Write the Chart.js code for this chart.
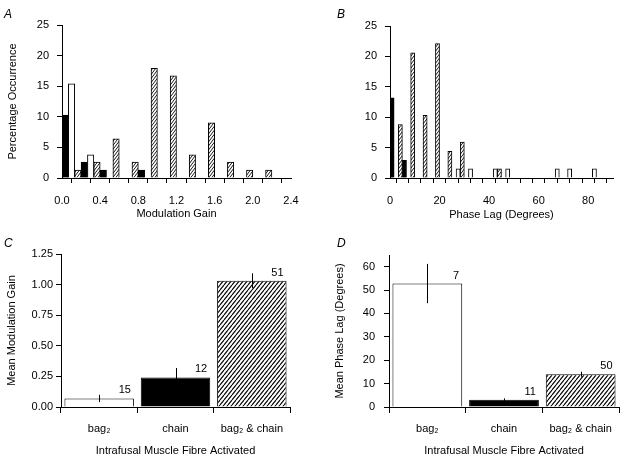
<!DOCTYPE html>
<html>
<head>
<title>Modulation gain and phase lag</title>
<script src="https://cdn.jsdelivr.net/npm/chart.js"></script>
<style>
  body { margin: 0; background: #fff; width: 624px; height: 460px; position: relative; overflow: hidden;
         font-family: "Liberation Sans", Arial, sans-serif; }
  .panel { position: absolute; width: 312px; height: 230px; }
  .letter { position: absolute; font-style: italic; font-size: 12px; color: #000; line-height: 14px; }
</style>
</head>
<body>

<div class="panel" style="left:0;top:0"><canvas id="chartA" width="312" height="230"></canvas></div>
<div class="panel" style="left:312px;top:0"><canvas id="chartB" width="312" height="230"></canvas></div>
<div class="panel" style="left:0;top:230px"><canvas id="chartC" width="312" height="230"></canvas></div>
<div class="panel" style="left:312px;top:230px"><canvas id="chartD" width="312" height="230"></canvas></div>

<div class="letter" style="left:4px;top:7px">A</div>
<div class="letter" style="left:337px;top:7px">B</div>
<div class="letter" style="left:4px;top:236px">C</div>
<div class="letter" style="left:337px;top:236px">D</div>

<script>
// Panel A: modulation gain histogram (bin centres, % occurrence)
var gainBins  = [0.1, 0.3, 0.5, 0.7, 0.9, 1.1, 1.3, 1.5, 1.7, 1.9, 2.1, 2.3];
var gainChain = [10.3, 2.6, 1.3, null, 1.3, null, null, null, null, null, null, null];
var gainBag2  = [15.4, 3.8, null, null, null, null, null, null, null, null, null, null];
var gainBoth  = [1.3, 2.6, 6.4, 2.6, 17.9, 16.7, 3.8, 9.0, 2.6, 1.3, 1.3, null];

// Panel B: phase lag histogram (bin centres in degrees, % occurrence)
var lagBins  = [2.5, 7.5, 12.5, 17.5, 22.5, 27.5, 32.5, 37.5, 42.5, 47.5, 52.5, 57.5, 62.5, 67.5, 72.5, 77.5, 82.5, 87.5];
var lagChain = [13.2, 2.9, null, null, null, null, null, null, null, null, null, null, null, null, null, null, null, null];
var lagBag2  = [null, null, null, null, null, 1.5, 1.5, null, 1.5, 1.5, null, null, null, 1.5, 1.5, null, 1.5, null];
var lagBoth  = [8.8, 20.6, 10.3, 22.1, 4.4, 5.9, null, null, 1.5, null, null, null, null, null, null, null, null, null];

// Panels C and D: means by fibre type
var fibres    = ['bag\u2082', 'chain', 'bag\u2082 & chain'];
var meanGain  = [0.07, 0.242, 1.032];
var gainError = [0.03, 0.077, 0.06];
var gainN     = [15, 12, 51];
var meanLag   = [52.8, 3.1, 14.0];
var lagError  = [8.4, 0.6, 1.1];
var lagN      = [7, 11, 50];

Chart.defaults.font.family = '"Liberation Sans", Arial, sans-serif';
Chart.defaults.font.size = 11;
Chart.defaults.color = '#000';

// diagonal "/" hatch
function makeHatch(w, h, lw) {
    var c = document.createElement('canvas');
    c.width = w; c.height = h;
    var g = c.getContext('2d');
    g.fillStyle = '#fff';
    g.fillRect(0, 0, w, h);
    g.strokeStyle = '#000';
    g.lineWidth = lw;
    g.beginPath();
    g.moveTo(0, h); g.lineTo(w, 0);
    g.moveTo(-w, h); g.lineTo(0, 0);
    g.moveTo(w, h); g.lineTo(2 * w, 0);
    g.stroke();
    return g.createPattern(c, 'repeat');
}
var fineHatch = makeHatch(3, 4, 0.9);
var wideHatch = makeHatch(4, 5, 1.1);

function blackAxis(extra) {
    var o = {
        grid: { drawOnChartArea: false, color: '#000', tickLength: 5 },
        border: { color: '#000', width: 1 }
    };
    for (var k in extra) o[k] = extra[k];
    return o;
}

function histogram(id, bins, chain, bag2, both, xScale, yScale, pad, yWidth) {
    xScale.afterFit = function (s) { s.height = 52; };
    yScale.afterFit = function (s) { s.width = yWidth; };
    return new Chart(document.getElementById(id), {
        type: 'bar',
        data: {
            labels: bins,
            datasets: [
                { data: chain, backgroundColor: '#000', borderColor: '#000', borderWidth: 1 },
                { data: bag2, backgroundColor: '#fff', borderColor: '#000', borderWidth: 1 },
                { data: both, backgroundColor: fineHatch, borderColor: '#000', borderWidth: 1 }
            ]
        },
        options: {
            responsive: false,
            animation: false,
            layout: { padding: pad },
            datasets: { bar: { categoryPercentage: 1, barPercentage: 1 } },
            plugins: { legend: { display: false }, tooltip: { enabled: false } },
            scales: { x: xScale, y: yScale }
        }
    });
}

histogram('chartA', gainBins, gainChain, gainBag2, gainBoth,
    blackAxis({
        type: 'linear', min: 0, max: 2.4, offset: false,
        ticks: {
            stepSize: 0.2, autoSkip: false, maxRotation: 0, padding: 11,
            callback: function (v) { var k = Math.round(v * 10); return k % 4 === 0 ? (k / 10).toFixed(1) : ''; }
        },
        title: { display: true, text: 'Modulation Gain', padding: { top: 0, bottom: 9 } }
    }),
    blackAxis({
        min: 0, max: 25,
        ticks: { stepSize: 5, padding: 8 },
        title: { display: true, text: 'Percentage Occurrence', padding: { top: 6, bottom: 0 } }
    }),
    { top: 25, right: 21, left: 0, bottom: 0 }, 62);

histogram('chartB', lagBins, lagChain, lagBag2, lagBoth,
    blackAxis({
        type: 'linear', min: 0, max: 90, offset: false,
        ticks: {
            stepSize: 5, autoSkip: false, maxRotation: 0, padding: 11,
            callback: function (v) { return v % 20 === 0 ? String(v) : ''; }
        },
        title: { display: true, text: 'Phase Lag (Degrees)', padding: { top: 0, bottom: 8 } }
    }),
    blackAxis({
        min: 0, max: 25,
        ticks: { stepSize: 5, padding: 8 }
    }),
    { top: 26, right: 4, left: 0, bottom: 0 }, 78);

// error bars and n labels for the mean charts
var errorAndCount = {
    id: 'errorAndCount',
    afterDatasetsDraw: function (chart, args, opts) {
        var ctx = chart.ctx, y = chart.scales.y;
        var vals = chart.data.datasets[0].data;
        ctx.save();
        ctx.strokeStyle = '#000';
        ctx.fillStyle = '#000';
        ctx.lineWidth = 1;
        ctx.font = '11px "Liberation Sans", Arial, sans-serif';
        ctx.textAlign = 'right';
        ctx.textBaseline = 'alphabetic';
        chart.getDatasetMeta(0).data.forEach(function (bar, i) {
            var x = Math.round(bar.x) + 0.5;
            ctx.beginPath();
            ctx.moveTo(x, y.getPixelForValue(vals[i] - opts.err[i]));
            ctx.lineTo(x, y.getPixelForValue(vals[i] + opts.err[i]));
            ctx.stroke();
            ctx.fillText(String(opts.n[i]), bar.x + bar.width / 2 - 3, bar.y - 5);
        });
        ctx.restore();
    }
};

function meanChart(id, values, err, n, yScale, pad, yWidth) {
    yScale.afterFit = function (s) { s.width = yWidth; };
    return new Chart(document.getElementById(id), {
        type: 'bar',
        data: {
            labels: fibres,
            datasets: [{
                data: values,
                backgroundColor: ['#fff', '#000', wideHatch],
                borderColor: '#000',
                borderWidth: 1,
                barPercentage: 0.91,
                categoryPercentage: 1
            }]
        },
        options: {
            responsive: false,
            animation: false,
            layout: { padding: pad },
            plugins: { legend: { display: false }, tooltip: { enabled: false }, errorAndCount: { err: err, n: n } },
            scales: {
                x: {
                    type: 'category', offset: true,
                    grid: { offset: true, drawOnChartArea: false, color: '#000', tickLength: 6 },
                    border: { color: '#000', width: 1 },
                    ticks: { padding: 9, maxRotation: 0 },
                    title: { display: true, text: 'Intrafusal Muscle Fibre Activated', padding: { top: 0, bottom: 2 } },
                    afterFit: function (s) { s.height = 53; }
                },
                y: yScale
            }
        },
        plugins: [errorAndCount]
    });
}

meanChart('chartC', meanGain, gainError, gainN,
    blackAxis({
        min: 0, max: 1.25,
        ticks: { stepSize: 0.25, padding: 3, callback: function (v) { return v.toFixed(2); } },
        title: { display: true, text: 'Mean Modulation Gain', padding: { top: 5, bottom: 0 } }
    }),
    { top: 24, right: 22, left: 0, bottom: 0 }, 61);

meanChart('chartD', meanLag, lagError, lagN,
    blackAxis({
        min: 0, max: 65,
        ticks: { stepSize: 5, padding: 9, callback: function (v) { return v % 10 === 0 ? String(v) : ''; } },
        title: { display: true, text: 'Mean Phase Lag (Degrees)', padding: { top: 21, bottom: 0 } }
    }),
    { top: 25, right: 5, left: 0, bottom: 0 }, 77);
</script>
</body>
</html>
